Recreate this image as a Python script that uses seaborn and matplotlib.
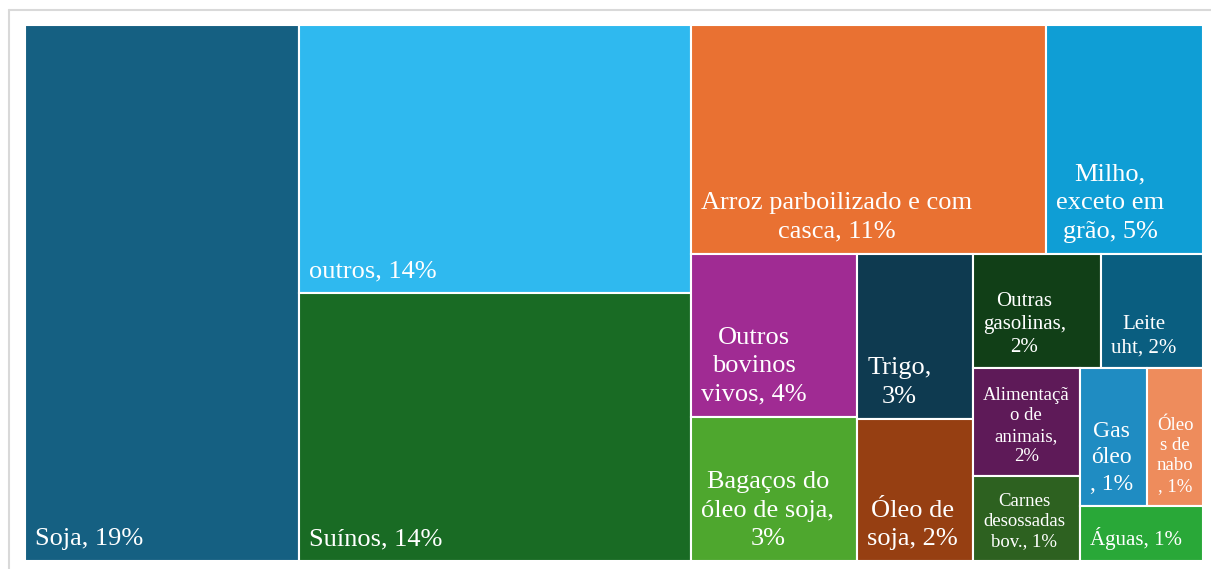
import seaborn as sns
import matplotlib.pyplot as plt
from matplotlib.patches import Rectangle
from matplotlib.lines import Line2D

# export shares (% of total)
names = ["Soja", "outros", "Suínos", "Arroz parboilizado e com casca",
         "Milho, exceto em grão", "Outros bovinos vivos", "Bagaços do óleo de soja",
         "Trigo", "Óleo de soja", "Outras gasolinas", "Leite uht",
         "Alimentação de animais", "Carnes desossadas bov.", "Gas óleo",
         "Óleos de nabo", "Águas"]
shares = [19.43, 13.97, 13.92, 10.74, 4.75, 3.58, 3.17, 2.53, 2.18, 1.95,
          1.55, 1.53, 1.21, 1.21, 1.02, 0.90]
# label text as wrapped in the reference, {} = rounded share
labels = ["Soja, {}%", "outros, {}%", "Suínos, {}%",
          "Arroz parboilizado e com\ncasca, {}%", "Milho,\nexceto em\ngrão, {}%",
          "Outros\nbovinos\nvivos, {}%", "Bagaços do\nóleo de soja,\n{}%",
          "Trigo,\n{}%", "Óleo de\nsoja, {}%", "Outras\ngasolinas,\n{}%",
          "Leite\nuht, {}%", "Alimentaçã\no de\nanimais,\n{}%",
          "Carnes\ndesossadas\nbov., {}%", "Gas\nóleo\n, {}%",
          "Óleo\ns de\nnabo\n, {}%", "Águas, {}%"]
colors = ["#156082", "#2fb9ef", "#196b24", "#e97132", "#0f9ed5", "#a02b93",
          "#4ea72e", "#0e3a50", "#963f12", "#113f17", "#0a5e80", "#5e1a58",
          "#2d6120", "#1f8cc2", "#ee8c5c", "#29a838"]
font_sizes = [19, 19, 19, 19, 19, 19, 19, 19, 19, 15, 15, 13.5, 13.5, 17, 13.5, 15]


def worst(row, side):
    s = sum(row)
    return max(max(side * side * r / (s * s), s * s / (side * side * r)) for r in row)


def squarify(vals, x, y, dx, dy):
    rects = []
    vals = list(vals)
    while vals:
        side = min(dx, dy)
        row = [vals[0]]
        i = 1
        while i < len(vals):
            better = worst(row + [vals[i]], side) <= worst(row, side)
            # don't leave a lone item behind for its own strip
            orphan = len(vals) - i == 2
            if not (better or orphan):
                break
            row.append(vals[i])
            i += 1
        s = sum(row)
        if dx >= dy:
            w = s / dy
            yy = y
            for r in row:
                rects.append((x, yy, w, r / w))
                yy += r / w
            x += w
            dx -= w
        else:
            h = s / dx
            xx = x
            for r in row:
                rects.append((xx, y, r / h, h))
                xx += r / h
            y += h
            dy -= h
        vals = vals[i:]
    return rects


W, H = 1178, 536
total = sum(shares)
areas = [v / total * W * H for v in shares]
rects = squarify(areas, 0, 0, W, H)

sns.set_theme(style="white")
plt.rcParams['font.family'] = ['Liberation Serif', 'DejaVu Serif']
palette = sns.color_palette(colors)

fig = plt.figure(figsize=(12.11, 5.69), dpi=100)
ax = fig.add_axes([25 / 1211, 8 / 569, 1178 / 1211, 536 / 569])
ax.set_xlim(0, W)
ax.set_ylim(H, 0)
ax.axis("off")

for (x, y, w, h), c, lab, v, fs in zip(rects, palette, labels, shares, font_sizes):
    ax.add_patch(Rectangle((x, y), w, h, facecolor=c, edgecolor="white", lw=1.5))
    ax.text(x + 10, y + h - 11, lab.format(f"{v:.0f}"), color="white",
            fontsize=fs, ha="left", va="bottom", multialignment="center",
            linespacing=1.25 + (fs - 13.5) * 0.024)

# light frame around the visual
fig.add_artist(Line2D([9 / 1211, 1], [1 - 10 / 569, 1 - 10 / 569],
                      color="#d9d9d9", lw=1.5, transform=fig.transFigure))
fig.add_artist(Line2D([9 / 1211, 9 / 1211], [0, 1 - 10 / 569],
                      color="#d9d9d9", lw=1.5, transform=fig.transFigure))

fig.savefig("out.png", dpi=100, facecolor="white")
